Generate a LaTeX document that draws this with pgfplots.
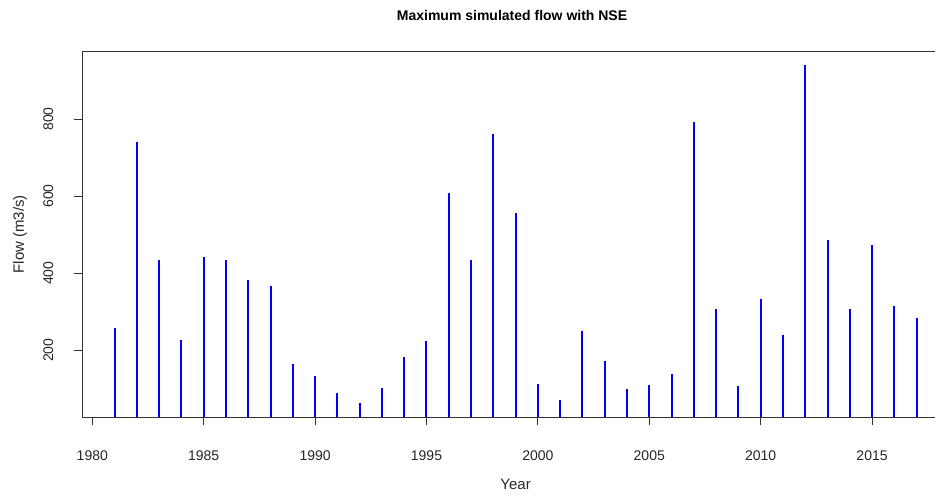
\documentclass[border=0pt]{standalone}
\usepackage{pgfplots}
\pgfplotsset{compat=1.18}
\usepackage{fontspec}
\setmainfont{Liberation Sans}

% Annual maximum simulated flow (m3/s)
\pgfplotstableread{
year flow
1981 257
1982 740
1983 435
1984 227
1985 442
1986 435
1987 382
1988 366
1989 164
1990 132
1991 90
1992 62
1993 102
1994 182
1995 224
1996 608
1997 435
1998 760
1999 555
2000 112
2001 72
2002 249
2003 173
2004 99
2005 110
2006 138
2007 793
2008 308
2009 107
2010 333
2011 239
2012 940
2013 486
2014 306
2015 473
2016 316
2017 283
}\flowdata

\begin{document}
\begin{tikzpicture}
\useasboundingbox (0,0) rectangle (935pt,497pt);
\begin{axis}[
  at={(82.5pt,80pt)}, anchor=south west,
  scale only axis, width=866.2pt, height=365.5pt,
  xmin=1979.56, xmax=2018.44,
  ymin=26.9, ymax=975.1,
  xtick={1980,1985,...,2015},
  ytick={200,400,600,800},
  tick align=outside,
  major tick length=8.5pt,
  every tick/.style={black!80, line width=0.8pt},
  axis line style={black!80, line width=0.9pt},
  xtick pos=bottom, ytick pos=left,
  /pgf/number format/assume math mode=true,
  /pgf/number format/1000 sep={},
  tick label style={font=\fontsize{14}{16}\selectfont, text=black!85},
  xticklabel style={anchor=base, inner sep=0pt},
  yticklabel style={rotate=90, anchor=base, inner sep=0pt},
  xticklabel shift=34.7pt,
  yticklabel shift=21pt,
  clip mode=individual,
]
\addplot[ycomb, blue, line width=2pt] table[x=year, y=flow] {\flowdata};
\node[anchor=base, font=\bfseries\fontsize{14}{16}\selectfont]
  at (axis description cs:0.4959,1) [yshift=30.8pt] {Maximum simulated flow with NSE};
\node[anchor=base, font=\fontsize{15}{17}\selectfont, text=black!85]
  at (axis description cs:0.5,0) [yshift=-73pt] {Year};
\node[anchor=base, rotate=90, yshift=58.7pt, font=\fontsize{15}{17}\selectfont, text=black!85]
  at (axis description cs:0,0.5) {Flow (m3/s)};
\end{axis}
\end{tikzpicture}
\end{document}
